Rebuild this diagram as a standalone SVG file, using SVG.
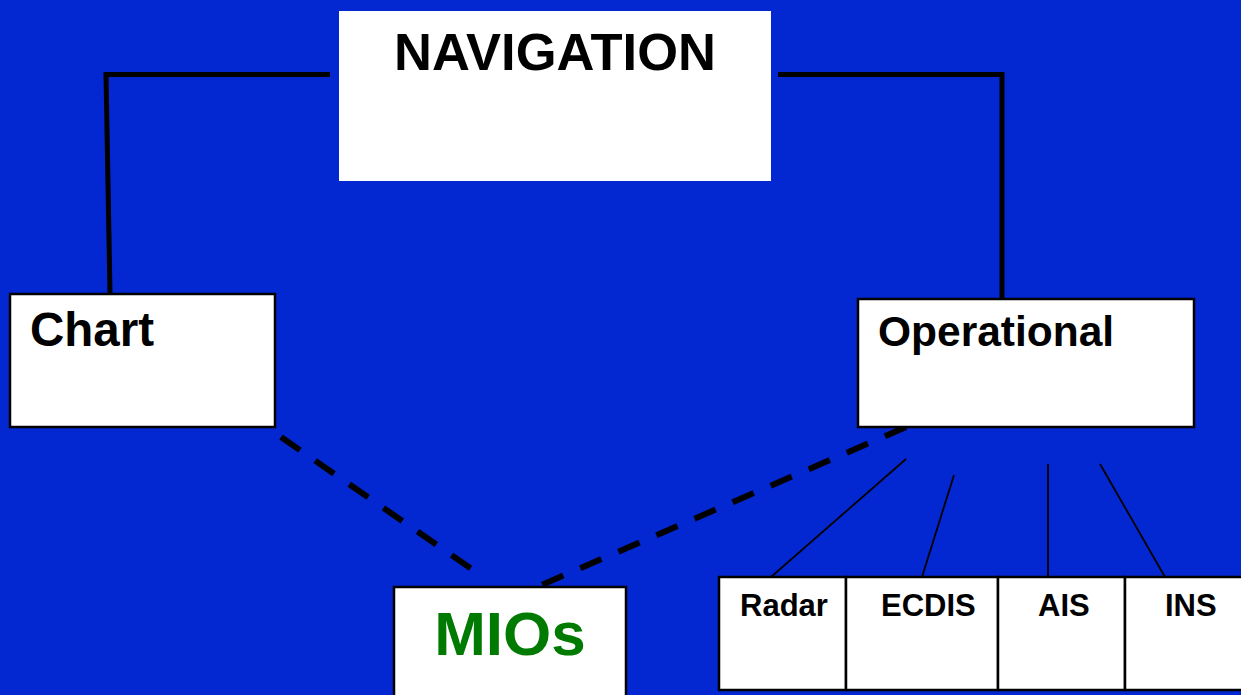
<svg xmlns="http://www.w3.org/2000/svg" width="1241" height="695" viewBox="0 0 1241 695">
<style>
.box{fill:#fff;stroke:#000;stroke-width:2.5}
.t{font-family:"Liberation Sans",Arial,sans-serif;font-weight:bold;fill:#000}
.thick{stroke:#000;stroke-width:5;fill:none;stroke-linejoin:miter}
.dash{stroke:#000;stroke-width:6;fill:none;stroke-dasharray:23 18.5}
.thin{stroke:#000;stroke-width:1.8;fill:none}
</style>
<rect width="1241" height="695" fill="#0328D2"/>
<g id="connectors">
<polyline class="thick" points="330,74.5 106,74.5 110,293"/>
<polyline class="thick" points="778,74.5 1002,74.5 1002,298"/>
<line class="dash" x1="281" y1="437" x2="476" y2="572"/>
<line class="dash" x1="906" y1="427" x2="537" y2="587"/>
<line class="thin" x1="906" y1="459" x2="771" y2="577"/>
<line class="thin" x1="954" y1="475" x2="922" y2="577"/>
<line class="thin" x1="1048" y1="464" x2="1048" y2="577"/>
<line class="thin" x1="1100" y1="464" x2="1165" y2="577"/>
</g>
<g id="navigation">
<rect x="339" y="11" width="432" height="170" fill="#fff"/>
<text class="t" x="555" y="70" font-size="52.5" text-anchor="middle">NAVIGATION</text>
</g>
<g id="chart">
<rect class="box" x="10" y="294" width="265" height="133"/>
<text class="t" x="30" y="346" font-size="47.5">Chart</text>
</g>
<g id="operational">
<rect class="box" x="858" y="299" width="336" height="128"/>
<text class="t" x="878" y="346" font-size="42.5">Operational</text>
</g>
<g id="mios">
<rect class="box" x="394" y="587" width="232" height="112"/>
<text class="t" x="510" y="655" font-size="62" text-anchor="middle" style="fill:#007A00">MIOs</text>
</g>
<g id="radar">
<rect class="box" x="719" y="577" width="127" height="113"/>
<text class="t" x="740" y="616" font-size="31">Radar</text>
</g>
<g id="ecdis">
<rect class="box" x="846" y="577" width="152" height="113"/>
<text class="t" x="881" y="616" font-size="31">ECDIS</text>
</g>
<g id="ais">
<rect class="box" x="998" y="577" width="127" height="113"/>
<text class="t" x="1038" y="616" font-size="31">AIS</text>
</g>
<g id="ins">
<rect class="box" x="1125" y="577" width="130" height="113"/>
<text class="t" x="1165" y="616" font-size="31">INS</text>
</g>
</svg>
